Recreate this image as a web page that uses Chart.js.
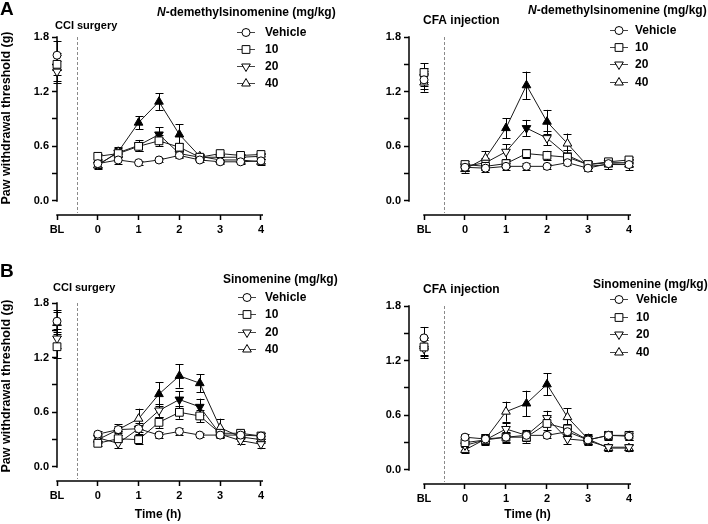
<!DOCTYPE html>
<html>
<head>
<meta charset="utf-8">
<script src="https://cdn.jsdelivr.net/npm/chart.js@4.4.1/dist/chart.umd.min.js"></script>
<style>
  body { margin: 0; background: #fff; width: 708px; height: 524px; position: relative; overflow: hidden; }
  .panel { position: absolute; }
  .letter { position: absolute; left: 0; font: bold 19px "Liberation Sans", Arial, sans-serif; line-height: 1; }
</style>
</head>
<body>
<div class="panel" style="left:0;top:0"><canvas id="a1" width="354" height="262"></canvas></div>
<div class="panel" style="left:354px;top:0"><canvas id="a2" width="354" height="262"></canvas></div>
<div class="panel" style="left:0;top:266px"><canvas id="b1" width="354" height="258"></canvas></div>
<div class="panel" style="left:354px;top:269px"><canvas id="b2" width="354" height="255"></canvas></div>
<div class="letter" style="top:-1px">A</div>
<div class="letter" style="top:261px">B</div>
<script>
const FONT = '"Liberation Sans", Arial, sans-serif';

// x = -1 is the baseline reading (BL), then hours after dosing
const times = [-1, 0, 0.5, 1, 1.5, 2, 2.5, 3, 3.5, 4];
const xTickValues = [-1, 0, 1, 2, 3, 4];
const xTickLabels = ['BL', '0', '1', '2', '3', '4'];
const yTickValues = [0, 0.3, 0.6, 0.9, 1.2, 1.5, 1.8];
const yTickLabels = ['0.0', '', '0.6', '', '1.2', '', '1.8'];
const doses = ['Vehicle', '10', '20', '40'];

// A, CCI surgery, N-demethylsinomenine
const aCciVehicle = [1.60, 0.41, 0.45, 0.42, 0.45, 0.50, 0.45, 0.43, 0.43, 0.44];
const aCci10      = [1.50, 0.49, 0.52, 0.60, 0.66, 0.59, 0.48, 0.52, 0.50, 0.51];
const aCci20      = [1.42, 0.40, 0.53, 0.61, 0.73, 0.52, 0.48, 0.48, 0.48, 0.49];
const aCci40      = [1.46, 0.39, 0.54, 0.86, 1.09, 0.73, 0.49, 0.45, 0.45, 0.43];
const aCciVehicleSem = [0.16, 0.04, 0.04, 0.02, 0.02, 0.03, 0.02, 0.02, 0.02, 0.02];
const aCci10Sem      = [0.12, 0.03, 0.04, 0.05, 0.06, 0.05, 0.03, 0.02, 0.02, 0.02];
const aCci20Sem      = [0.12, 0.04, 0.05, 0.06, 0.08, 0.04, 0.03, 0.03, 0.03, 0.03];
const aCci40Sem      = [0.14, 0.04, 0.05, 0.07, 0.09, 0.11, 0.03, 0.03, 0.03, 0.03];
const aCciSig = [[], [], [1.5], [1, 1.5, 2]];

// A, CFA injection, N-demethylsinomenine
const aCfaVehicle = [1.33, 0.37, 0.36, 0.38, 0.38, 0.38, 0.42, 0.36, 0.41, 0.40];
const aCfa10      = [1.41, 0.40, 0.38, 0.41, 0.52, 0.50, 0.48, 0.40, 0.43, 0.45];
const aCfa20      = [1.36, 0.38, 0.42, 0.54, 0.80, 0.69, 0.50, 0.40, 0.42, 0.42];
const aCfa40      = [1.30, 0.35, 0.47, 0.80, 1.27, 0.87, 0.63, 0.38, 0.40, 0.40];
const aCfaVehicleSem = [0.10, 0.04, 0.04, 0.04, 0.04, 0.03, 0.03, 0.03, 0.03, 0.03];
const aCfa10Sem      = [0.10, 0.04, 0.04, 0.04, 0.05, 0.05, 0.05, 0.04, 0.03, 0.03];
const aCfa20Sem      = [0.10, 0.04, 0.05, 0.08, 0.09, 0.08, 0.06, 0.04, 0.04, 0.04];
const aCfa40Sem      = [0.10, 0.04, 0.08, 0.11, 0.15, 0.13, 0.11, 0.05, 0.05, 0.06];
const aCfaSig = [[], [], [1.5], [1, 1.5, 2]];

// B, CCI surgery, Sinomenine
const bCciVehicle = [1.60, 0.36, 0.41, 0.42, 0.35, 0.39, 0.35, 0.35, 0.35, 0.34];
const bCci10      = [1.32, 0.26, 0.31, 0.30, 0.49, 0.60, 0.56, 0.37, 0.37, 0.34];
const bCci20      = [1.41, 0.32, 0.26, 0.42, 0.62, 0.74, 0.66, 0.36, 0.29, 0.25];
const bCci40      = [1.58, 0.30, 0.41, 0.53, 0.80, 1.00, 0.92, 0.43, 0.33, 0.30];
const bCciVehicleSem = [0.12, 0.04, 0.04, 0.04, 0.03, 0.04, 0.02, 0.02, 0.03, 0.03];
const bCci10Sem      = [0.12, 0.03, 0.04, 0.05, 0.06, 0.07, 0.07, 0.04, 0.03, 0.03];
const bCci20Sem      = [0.10, 0.04, 0.05, 0.06, 0.07, 0.09, 0.09, 0.04, 0.04, 0.04];
const bCci40Sem      = [0.12, 0.04, 0.06, 0.11, 0.13, 0.13, 0.10, 0.10, 0.04, 0.04];
const bCciSig = [[], [], [2, 2.5], [1.5, 2, 2.5]];

// B, CFA injection, Sinomenine
const bCfaVehicle = [1.45, 0.36, 0.34, 0.36, 0.38, 0.38, 0.42, 0.33, 0.38, 0.37];
const bCfa10      = [1.35, 0.30, 0.33, 0.36, 0.36, 0.51, 0.45, 0.33, 0.38, 0.38];
const bCfa20      = [1.33, 0.27, 0.33, 0.45, 0.38, 0.57, 0.34, 0.32, 0.25, 0.25];
const bCfa40      = [1.36, 0.22, 0.34, 0.64, 0.73, 0.94, 0.58, 0.34, 0.24, 0.24];
const bCfaVehicleSem = [0.12, 0.04, 0.04, 0.05, 0.05, 0.03, 0.04, 0.04, 0.04, 0.04];
const bCfa10Sem      = [0.10, 0.05, 0.06, 0.06, 0.06, 0.07, 0.06, 0.05, 0.05, 0.05];
const bCfa20Sem      = [0.10, 0.05, 0.05, 0.07, 0.06, 0.08, 0.05, 0.05, 0.03, 0.03];
const bCfa40Sem      = [0.10, 0.03, 0.05, 0.11, 0.14, 0.12, 0.10, 0.06, 0.03, 0.03];
const bCfaSig = [[], [], [], [1.5, 2]];

const markers = [
  { style: 'circle', radius: 4, rotation: 0 },
  { style: 'rect', radius: 5.5, rotation: 0 },
  { style: 'triangle', radius: 5, rotation: 180 },
  { style: 'triangle', radius: 5, rotation: 0 },
];

function drawMarker(ctx, m, x, y) {
  ctx.beginPath();
  if (m.style === 'circle') {
    ctx.arc(x, y, m.radius, 0, Math.PI * 2);
  } else if (m.style === 'rect') {
    const s = m.radius * Math.SQRT1_2;
    ctx.rect(x - s, y - s, 2 * s, 2 * s);
  } else {
    const d = m.rotation ? -1 : 1, r = m.radius;
    ctx.moveTo(x, y - d * r);
    ctx.lineTo(x + r * 0.866, y + d * r / 2);
    ctx.lineTo(x - r * 0.866, y + d * r / 2);
    ctx.closePath();
  }
  ctx.fillStyle = '#fff';
  ctx.fill();
  ctx.stroke();
}

const decor = {
  id: 'decor',
  beforeDatasetsDraw(chart) {
    const { ctx, chartArea: a, scales: { x, y } } = chart;
    ctx.save();
    // dashed divider between baseline and post-dose readings
    const xd = Math.round(x.getPixelForValue(-0.5)) + 0.5;
    ctx.strokeStyle = '#8a8a8a';
    ctx.lineWidth = 1;
    ctx.setLineDash([3, 2]);
    ctx.beginPath();
    ctx.moveTo(xd, y.getPixelForValue(1.8));
    ctx.lineTo(xd, a.bottom - 2);
    ctx.stroke();
    ctx.setLineDash([]);
    // offset axes
    ctx.strokeStyle = '#000';
    ctx.lineWidth = 1.5;
    ctx.beginPath();
    ctx.moveTo(a.left, y.getPixelForValue(0) + 0.75);
    ctx.lineTo(a.left, y.getPixelForValue(1.8) - 0.75);
    ctx.moveTo(x.getPixelForValue(-1) - 0.75, a.bottom);
    ctx.lineTo(a.right, a.bottom);
    ctx.stroke();
    // SEM error bars
    ctx.lineWidth = 1;
    chart.data.datasets.forEach(ds => {
      ds.data.forEach((pt, j) => {
        const px = Math.round(x.getPixelForValue(pt.x)) + 0.5;
        const top = y.getPixelForValue(pt.y + ds.sem[j]);
        const bot = y.getPixelForValue(pt.y - ds.sem[j]);
        ctx.beginPath();
        ctx.moveTo(px, top); ctx.lineTo(px, bot);
        ctx.moveTo(px - 4, Math.round(top) + 0.5); ctx.lineTo(px + 4, Math.round(top) + 0.5);
        ctx.moveTo(px - 4, Math.round(bot) + 0.5); ctx.lineTo(px + 4, Math.round(bot) + 0.5);
        ctx.stroke();
      });
    });
    ctx.restore();
  },
  afterDraw(chart) {
    const p = chart.options.plugins.decor;
    const ctx = chart.ctx;
    ctx.save();
    ctx.fillStyle = '#000';
    ctx.textBaseline = 'middle';
    ctx.textAlign = 'left';
    ctx.font = 'bold ' + p.title.size + 'px ' + FONT;
    ctx.fillText(p.title.text, p.title.x, p.title.y);
    // legend header, first part may be italic
    let hx = p.header.x;
    p.header.parts.forEach(part => {
      ctx.font = (part.italic ? 'italic ' : '') + 'bold 12px ' + FONT;
      ctx.fillText(part.t, hx, p.header.y);
      hx += ctx.measureText(part.t).width;
    });
    // legend rows
    ctx.font = 'bold 12px ' + FONT;
    doses.forEach((d, i) => {
      const ry = p.rows.ys[i];
      ctx.strokeStyle = '#444';
      ctx.lineWidth = 1;
      ctx.beginPath();
      ctx.moveTo(p.rows.mx - 9, ry + 0.5);
      ctx.lineTo(p.rows.mx + 9, ry + 0.5);
      ctx.stroke();
      ctx.strokeStyle = '#000';
      drawMarker(ctx, markers[i], p.rows.mx, ry + 0.5);
      ctx.fillStyle = '#000';
      ctx.fillText(d, p.rows.tx, ry + 0.5);
    });
    ctx.textAlign = 'center';
    if (p.yTitle) {
      ctx.save();
      ctx.translate(p.yTitle.x, p.yTitle.y);
      ctx.rotate(-Math.PI / 2);
      ctx.font = 'bold 12.5px ' + FONT;
      ctx.fillText('Paw withdrawal threshold (g)', 0, 0);
      ctx.restore();
    }
    if (p.xTitle) {
      ctx.font = 'bold 12px ' + FONT;
      ctx.fillText('Time (h)', p.xTitle.x, p.xTitle.y);
    }
    ctx.restore();
  }
};

function makeChart(p) {
  const datasets = p.means.map((m, i) => ({
    label: doses[i],
    data: times.map((t, j) => ({ x: t, y: m[j] })),
    sem: p.sems[i],
    borderColor: '#1a1a1a',
    borderWidth: 1,
    pointStyle: markers[i].style,
    pointRadius: markers[i].radius,
    pointRotation: markers[i].rotation,
    pointBorderColor: '#000',
    pointBorderWidth: 1,
    pointBackgroundColor: times.map(t => p.sig[i].includes(t) ? '#000' : '#fff'),
    segment: { borderColor: c => c.p0DataIndex === 0 ? 'rgba(0,0,0,0)' : '#1a1a1a' },
    tension: 0,
    clip: false,
  }));
  const tickFont = { family: FONT, size: 11, weight: 'bold' };
  return new Chart(document.getElementById(p.id), {
    type: 'line',
    data: { datasets },
    options: {
      responsive: false,
      animation: false,
      devicePixelRatio: 1,
      layout: { padding: { top: 37, right: p.w - p.right, left: 0, bottom: 0 } },
      scales: {
        x: {
          type: 'linear', min: p.xMin, max: 4.05,
          afterBuildTicks: s => { s.ticks = xTickValues.map(v => ({ value: v })); },
          afterFit: s => { s.height = p.h - 215; },
          ticks: { callback: (v, i) => xTickLabels[i], font: tickFont, color: '#000', padding: 3, maxRotation: 0, autoSkip: false },
          grid: { drawOnChartArea: false, tickLength: 5, tickWidth: 1.5, tickColor: '#000' },
          border: { display: false },
        },
        y: {
          min: -0.154, max: 1.8,
          afterBuildTicks: s => { s.ticks = yTickValues.map(v => ({ value: v })); },
          afterFit: s => { s.width = p.axisX; },
          ticks: { callback: (v, i) => yTickLabels[i], font: tickFont, color: '#000', padding: 3, autoSkip: false },
          grid: { drawOnChartArea: false, tickLength: 5, tickWidth: 1.5, tickColor: '#000' },
          border: { display: false },
        },
      },
      plugins: {
        legend: { display: false },
        tooltip: { enabled: false },
        decor: p.decor,
      },
    },
    plugins: [decor],
  });
}

const nDemethylHeader = [{ t: 'N', italic: true }, { t: '-demethylsinomenine (mg/kg)' }];
const sinomenineHeader = [{ t: 'Sinomenine (mg/kg)' }];

makeChart({
  id: 'a1', w: 354, h: 262, xMin: -1, axisX: 57, right: 263,
  means: [aCciVehicle, aCci10, aCci20, aCci40],
  sems: [aCciVehicleSem, aCci10Sem, aCci20Sem, aCci40Sem],
  sig: aCciSig,
  decor: {
    title: { text: 'CCI surgery', x: 55, y: 25.5, size: 11 },
    header: { parts: nDemethylHeader, x: 157, y: 12.5 },
    rows: { ys: [32, 49, 66, 83], mx: 246, tx: 265 },
    yTitle: { x: 7, y: 118 },
  },
});

makeChart({
  id: 'a2', w: 354, h: 262, xMin: -1.366, axisX: 55, right: 277,
  means: [aCfaVehicle, aCfa10, aCfa20, aCfa40],
  sems: [aCfaVehicleSem, aCfa10Sem, aCfa20Sem, aCfa40Sem],
  sig: aCfaSig,
  decor: {
    title: { text: 'CFA injection', x: 69, y: 20.5, size: 12 },
    header: { parts: nDemethylHeader, x: 174, y: 10.5 },
    rows: { ys: [30, 47, 64, 82], mx: 265, tx: 281 },
  },
});

makeChart({
  id: 'b1', w: 354, h: 258, xMin: -1, axisX: 57, right: 263,
  means: [bCciVehicle, bCci10, bCci20, bCci40],
  sems: [bCciVehicleSem, bCci10Sem, bCci20Sem, bCci40Sem],
  sig: bCciSig,
  decor: {
    title: { text: 'CCI surgery', x: 53, y: 21.5, size: 11 },
    header: { parts: sinomenineHeader, x: 223, y: 14 },
    rows: { ys: [31, 48, 66, 83], mx: 247, tx: 265 },
    yTitle: { x: 7, y: 120 },
    xTitle: { x: 158, y: 249 },
  },
});

makeChart({
  id: 'b2', w: 354, h: 255, xMin: -1.366, axisX: 55, right: 277,
  means: [bCfaVehicle, bCfa10, bCfa20, bCfa40],
  sems: [bCfaVehicleSem, bCfa10Sem, bCfa20Sem, bCfa40Sem],
  sig: bCfaSig,
  decor: {
    title: { text: 'CFA injection', x: 69, y: 21, size: 12 },
    header: { parts: sinomenineHeader, x: 239, y: 16 },
    rows: { ys: [30, 48, 65, 83], mx: 265, tx: 282 },
    xTitle: { x: 173.5, y: 246 },
  },
});
</script>
</body>
</html>
